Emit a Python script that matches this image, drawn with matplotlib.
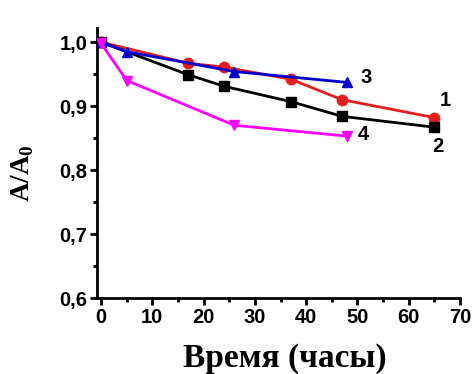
import matplotlib
matplotlib.use("Agg")
import matplotlib.pyplot as plt
from matplotlib.ticker import MultipleLocator, FuncFormatter

# Data
x1 = [0, 17, 24, 37, 47, 65]
y1 = [1.0, 0.967, 0.961, 0.942, 0.910, 0.882]
x2 = [0, 17, 24, 37, 47, 65]
y2 = [1.0, 0.949, 0.931, 0.907, 0.884, 0.867]
x3 = [0, 5, 26, 48]
y3 = [1.0, 0.985, 0.954, 0.937]
x4 = [0, 5, 26, 48]
y4 = [0.998, 0.940, 0.870, 0.853]

series = [
    (x1, y1, "#e41e1e", "o", "1"),
    (x2, y2, "black", "s", "2"),
    (x3, y3, "#0000cc", "^", "3"),
    (x4, y4, "#ff00ff", "v", "4"),
]
label_offsets = {"1": (1.0, 0.026), "2": (-0.5, -0.030), "3": (2.5, 0.008), "4": (2.0, 0.003)}

plt.rcParams["mathtext.fontset"] = "custom"
plt.rcParams["mathtext.rm"] = "Liberation Serif:bold"
plt.rcParams["mathtext.bf"] = "Liberation Serif:bold"

TICK_FONT = {"family": "Liberation Sans", "weight": "bold", "size": 14.5}

fig = plt.figure(figsize=(4.74, 3.74), dpi=100)
ax = fig.add_axes([0.2046, 0.2032, 0.7659, 0.7218])

for x, y, color, marker, name in series:
    ax.plot(x, y, color=color, marker=marker, markersize=7.5, linewidth=2, zorder=3)
    dx, dy = label_offsets[name]
    ax.text(x[-1] + dx, y[-1] + dy, name, color="black", fontdict=TICK_FONT,
            ha="left", va="center")

ax.set_xlim(-0.8, 70)
ax.set_ylim(0.6, 1.022)
ax.xaxis.set_major_locator(MultipleLocator(10))
ax.xaxis.set_minor_locator(MultipleLocator(5))
ax.yaxis.set_major_locator(MultipleLocator(0.1))
ax.yaxis.set_minor_locator(MultipleLocator(0.05))
ax.yaxis.set_major_formatter(FuncFormatter(lambda v, p: f"{v:.1f}".replace(".", ",")))

for side in ("top", "right"):
    ax.spines[side].set_visible(False)
for side in ("left", "bottom"):
    ax.spines[side].set_linewidth(2)

ax.tick_params(which="major", direction="out", length=5, width=2, pad=2)
ax.tick_params(which="minor", direction="out", length=3, width=2)
for lab in ax.get_xticklabels() + ax.get_yticklabels():
    lab.set_fontfamily("Liberation Sans")
    lab.set_fontweight("bold")
    lab.set_fontsize(14.5)

ax.set_xlabel("Время (часы)", family="Liberation Serif", weight="bold", fontsize=24)
ax.xaxis.set_label_coords(0.518, -0.165)
ax.set_ylabel("A/A$_\\mathrm{0}$", family="Liberation Serif", weight="bold", fontsize=19.5)
ax.yaxis.set_label_coords(-0.168, 0.463)

fig.savefig("out.png", dpi=100)
